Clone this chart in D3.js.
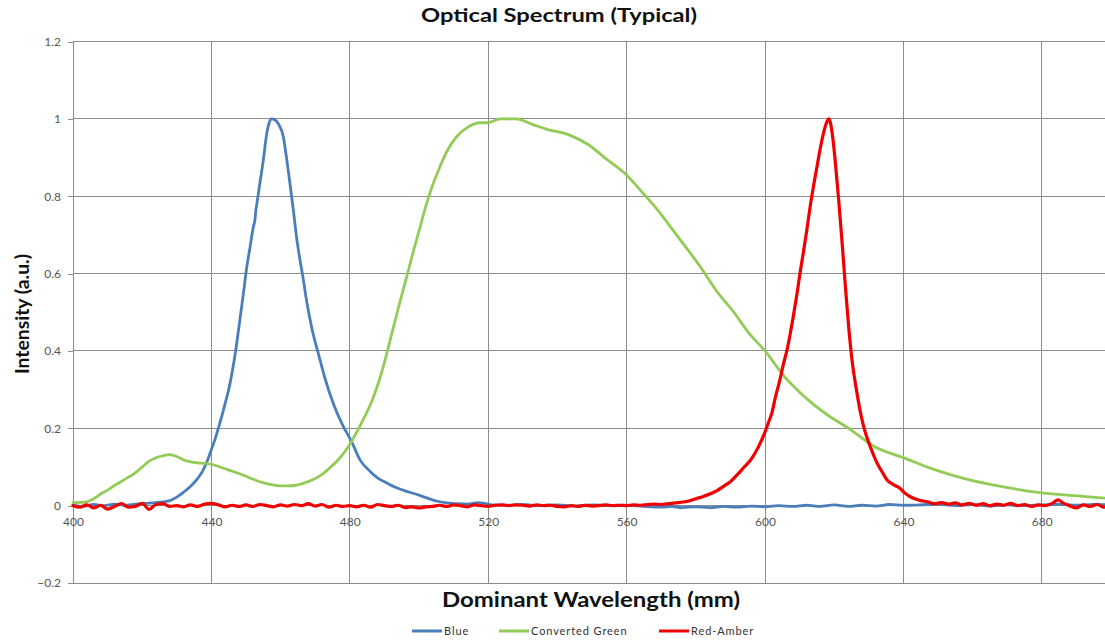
<!DOCTYPE html>
<html>
<head>
<meta charset="utf-8">
<script src="https://cdn.jsdelivr.net/npm/d3@7"></script>
<style>
  html, body { margin: 0; padding: 0; background: #fff; }
  svg { display: block; }
  text { font-family: Lato, "Open Sans", sans-serif; }
</style>
</head>
<body>
<svg id="chart" width="1105" height="640"></svg>
<script>
// ---------- data ----------
const chartTitle = "Optical Spectrum (Typical)";
const xTitle = "Dominant Wavelength (mm)";
const yTitle = "Intensity (a.u.)";
const seriesNames = ["Blue", "Converted Green", "Red-Amber"];
const xTicks = [400, 440, 480, 520, 560, 600, 640, 680];
const yTicks = [-0.2, 0, 0.2, 0.4, 0.6, 0.8, 1, 1.2];

const blueWl = [400,403,406,409,412,415,418,421,424,426,428,430,432,434,436,437.5,439,440,441,442.5,444,445,446,447,448,449.2,450.2,451.2,452.1,452.6,452.8,453,454,455,456,456.7,457.4,458.3,459.3,460.8,461.7,462.7,463.7,464.6,465.6,466.6,467.5,469,471,472.8,475.2,478.1,480.5,482.9,485.8,488,490.6,493,496.4,499,502.2,505,508,511,514,517,519,521,525,530,535,540,545,550,555,560,565,570,573,576,580,584,588,592,596,600,604,608,612,616,620,624,628,632,636,640,645,650,655,660,665,670,675,680,685,690,695,700];
const blueVal = [0.002,-0.002,0.003,0.0,0.004,0.001,0.004,0.006,0.008,0.01,0.013,0.022,0.035,0.05,0.07,0.09,0.12,0.145,0.17,0.215,0.265,0.30,0.345,0.40,0.465,0.545,0.615,0.67,0.72,0.74,0.76,0.772,0.833,0.893,0.962,0.99,1.0,0.998,0.988,0.953,0.90,0.833,0.763,0.695,0.635,0.583,0.53,0.46,0.39,0.33,0.265,0.205,0.166,0.119,0.089,0.072,0.059,0.048,0.037,0.03,0.02,0.012,0.007,0.005,0.004,0.008,0.006,0.002,0.001,0.003,0.0,0.002,-0.001,0.002,0.0,0.001,-0.002,-0.004,-0.002,-0.005,-0.003,-0.005,-0.002,-0.004,-0.001,-0.003,0.0,-0.002,0.001,-0.002,0.002,-0.002,0.001,-0.001,0.003,0.001,0.002,0.004,0.0,0.003,-0.001,0.002,0.0,0.002,0.004,0.001,0.003,0.002];

const greenWl = [400,404,406,408,410,412,415,418,420,422,424,426,428,430,432,434,437,440,442.5,445,448,450,453,456,459,462,465,468,471,473.3,475,477,480,482,484,486,488,490,492,494,496.4,498,500.3,502,504,506,508,511,514,517.6,520,523.4,528,533,537,543,549,553.6,560,565,568,574,581.5,586,591,595,600,605.5,610.4,614,618,624.8,631.6,640,649,658.8,668.6,680,690.6,700];
const greenVal = [0.008,0.01,0.018,0.03,0.04,0.052,0.068,0.085,0.10,0.115,0.124,0.129,0.132,0.127,0.118,0.113,0.11,0.107,0.10,0.092,0.083,0.076,0.065,0.057,0.052,0.051,0.054,0.062,0.075,0.09,0.104,0.122,0.158,0.19,0.225,0.262,0.31,0.37,0.44,0.51,0.59,0.645,0.72,0.775,0.83,0.875,0.915,0.955,0.978,0.99,0.99,1.0,1.0,0.985,0.973,0.96,0.933,0.90,0.855,0.805,0.775,0.705,0.615,0.555,0.50,0.45,0.40,0.335,0.29,0.262,0.235,0.196,0.153,0.124,0.093,0.067,0.049,0.033,0.025,0.018];

const redWl = [400,402,404,406,408,410,412,414,416,418,420,422,424,426,428,430,432,434,436,438,440,442,444,446,448,450,452,454,456,458,460,462,464,466,468,470,472,474,476,478,480,482,484,486,488,490,492,494,496,498,500,502,504,506,508,510,512,514,516,518,520,522,524,526,528,530,532,534,536,538,540,542,544,546,548,550,552,554,556,558,560,562,564,566,568,570,572,575,578,580,582,584,586,588,590,592,594,596,598,600,601,602,603,604.3,605.3,606.3,607.2,608.2,609.2,610.1,611.1,612.1,613,614,615,615.9,616.7,617.4,618,618.4,618.9,619.3,619.8,620.3,620.8,621.3,622.2,623.2,624.2,625.1,626.6,627.5,628.5,630.4,632.4,634,635.3,637,639,640.5,642,643.5,645,647,649,651,653,655,657,659,661,663,665,667,669,671,673,675,677,679,681,683,684.7,686,688,690,692,694,696,698,700];
const redVal = [0.0,-0.004,0.002,-0.006,0.001,-0.009,-0.002,0.005,-0.004,-0.002,0.006,-0.01,0.003,0.005,-0.002,0.0,-0.003,0.002,-0.002,0.004,0.006,0.002,-0.003,0.001,-0.002,0.002,-0.002,0.003,0.0,-0.003,0.002,-0.001,0.003,0.0,0.005,-0.001,0.003,-0.004,0.001,-0.002,0.0,-0.003,0.001,-0.004,0.003,0.0,-0.002,0.001,-0.005,-0.003,-0.006,-0.003,-0.002,0.001,-0.002,0.002,0.0,-0.003,0.002,0.0,-0.002,0.001,0.002,0.0,0.002,0.001,-0.001,0.002,0.0,0.001,-0.002,-0.003,0.0,-0.002,0.001,-0.001,0.0,0.002,0.0,0.001,0.0,0.002,0.001,0.003,0.004,0.003,0.005,0.008,0.012,0.018,0.023,0.03,0.038,0.05,0.062,0.08,0.10,0.12,0.15,0.19,0.215,0.24,0.28,0.325,0.365,0.40,0.44,0.49,0.545,0.60,0.655,0.713,0.77,0.825,0.875,0.92,0.955,0.98,0.995,1.0,0.99,0.97,0.935,0.89,0.84,0.79,0.69,0.57,0.46,0.38,0.29,0.245,0.205,0.153,0.11,0.085,0.066,0.055,0.045,0.032,0.023,0.017,0.013,0.01,0.005,0.008,0.004,0.007,0.002,0.006,0.001,0.005,0.0,0.004,0.001,0.006,0.0,0.003,-0.002,0.002,0.0,0.006,0.015,0.008,0.0,-0.006,0.002,-0.002,0.003,-0.004,0.0];

const seriesColors = ["#4A7EBB", "#92CB55", "#F00000"];
const seriesWidths = [2.8, 2.8, 3.2];

// ---------- layout ----------
const svg = d3.select("#chart");
const margin = { left: 73, top: 41.5 };
const plotRight = 1111, plotBottom = 583;

const x = d3.scaleLinear().domain([400, 700]).range([margin.left, plotRight]);
const y = d3.scaleLinear().domain([-0.2, 1.2]).range([plotBottom, margin.top]);

const gridColor = "#8c8c8c";

// vertical gridlines
svg.append("g").selectAll("line").data(xTicks.slice(1).concat([700])).join("line")
  .attr("x1", d => x(d)).attr("x2", d => x(d))
  .attr("y1", y(1.2)).attr("y2", y(-0.2))
  .attr("stroke", gridColor).attr("stroke-width", 1).attr("shape-rendering", "crispEdges");

// horizontal gridlines
svg.append("g").selectAll("line").data(yTicks).join("line")
  .attr("x1", x(400)).attr("x2", x(700))
  .attr("y1", d => y(d)).attr("y2", d => y(d))
  .attr("stroke", gridColor).attr("stroke-width", 1).attr("shape-rendering", "crispEdges");

// y axis (left)
const yAxis = d3.axisLeft(y).tickValues(yTicks).tickSize(5).tickPadding(7)
  .tickFormat(d => d3.format("~g")(d));
const gy = svg.append("g").attr("transform", `translate(${x(400)},0)`).call(yAxis);
gy.select(".domain").attr("stroke", gridColor).attr("shape-rendering", "crispEdges");
gy.selectAll(".tick line").attr("stroke", gridColor).attr("shape-rendering", "crispEdges");
gy.selectAll(".tick text").attr("fill", "#555").attr("font-size", 12).attr("font-family", "Lato, sans-serif");

// x axis at y = 0
const xAxis = d3.axisBottom(x).tickValues(xTicks).tickSize(0).tickPadding(12);
const gx = svg.append("g").attr("transform", `translate(0,${y(0)})`).call(xAxis);
gx.select(".domain").remove();
gx.selectAll(".tick text").attr("fill", "#555").attr("font-size", 12).attr("font-family", "Lato, sans-serif");

// lines
const allSeries = [
  { name: seriesNames[0], wl: blueWl, val: blueVal, color: seriesColors[0], w: seriesWidths[0] },
  { name: seriesNames[1], wl: greenWl, val: greenVal, color: seriesColors[1], w: seriesWidths[1] },
  { name: seriesNames[2], wl: redWl, val: redVal, color: seriesColors[2], w: seriesWidths[2] }
];
const line = d3.line().x(d => x(d[0])).y(d => y(d[1])).curve(d3.curveMonotoneX);
allSeries.forEach(s => {
  svg.append("path")
    .datum(s.wl.map((w, i) => [w, s.val[i]]))
    .attr("fill", "none")
    .attr("stroke", s.color)
    .attr("stroke-width", s.w)
    .attr("stroke-linejoin", "round")
    .attr("stroke-linecap", "round")
    .attr("d", line);
});

// titles
svg.append("text").attr("x", 559).attr("y", 22).attr("text-anchor", "middle")
  .attr("font-weight", "bold").attr("font-size", 18).attr("fill", "#111")
  .attr("textLength", 276).attr("lengthAdjust", "spacingAndGlyphs").text(chartTitle);
svg.append("text").attr("x", 591).attr("y", 607).attr("text-anchor", "middle")
  .attr("font-weight", "bold").attr("font-size", 21).attr("fill", "#111")
  .attr("textLength", 298).attr("lengthAdjust", "spacingAndGlyphs").text(xTitle);
svg.append("text").attr("transform", "translate(29,314) rotate(-90)").attr("text-anchor", "middle")
  .attr("font-weight", "bold").attr("font-size", 19).attr("fill", "#111")
  .attr("textLength", 120).attr("lengthAdjust", "spacingAndGlyphs").text(yTitle);

// legend
const legendItems = [
  { x0: 412, name: seriesNames[0], color: seriesColors[0] },
  { x0: 499, name: seriesNames[1], color: seriesColors[1] },
  { x0: 659, name: seriesNames[2], color: seriesColors[2] }
];
const lg = svg.append("g");
legendItems.forEach(it => {
  lg.append("line").attr("x1", it.x0).attr("x2", it.x0 + 30).attr("y1", 631).attr("y2", 631)
    .attr("stroke", it.color).attr("stroke-width", 3);
  lg.append("text").attr("x", it.x0 + 32).attr("y", 635).attr("font-size", 11)
    .attr("letter-spacing", 0.9).attr("fill", "#333").text(it.name);
});
</script>
</body>
</html>
